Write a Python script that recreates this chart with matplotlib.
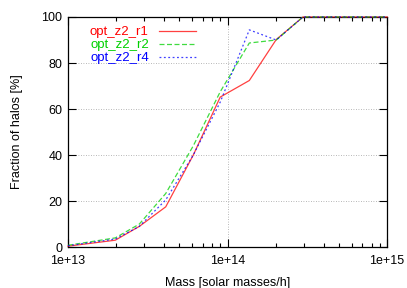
import matplotlib
matplotlib.use("Agg")
import matplotlib.pyplot as plt
from matplotlib.ticker import LogLocator, FixedLocator, NullFormatter

plt.rcParams['font.family'] = ['Liberation Sans', 'DejaVu Sans']

mass = [1.0e13, 1.98e13, 2.8e13, 4.1e13, 6.1e13, 9.0e13, 1.37e14, 2.02e14, 2.97e14, 4.4e14, 6.5e14, 1.0e15]
r1 = [0.4, 3.0, 9.0, 17.5, 40.0, 65.2, 72.4, 90.2, 100, 100, 100, 100]
r2 = [0.8, 4.0, 10.0, 23.3, 44.0, 67.5, 88.7, 90.0, 100, 100, 100, 100]
r4 = [0.6, 3.5, 9.0, 20.5, 40.0, 63.0, 94.4, 90.0, 100, 100, 100, 100]
labels = ['opt_z2_r1', 'opt_z2_r2', 'opt_z2_r4']
colors = ['#ff0000', '#00d000', '#0000ff']
styles = ['-', (0, (4, 2)), (0, (1.5, 2))]

fig = plt.figure(figsize=(4.07, 2.88), dpi=100)
ax = fig.add_axes([0.167, 0.142, 0.784, 0.799])

for y, lab, c, ls in zip([r1, r2, r4], labels, colors, styles):
    ax.plot(mass, y, color=c, linestyle=ls, linewidth=0.9, label=lab, alpha=0.75, clip_on=False, zorder=3)

ax.set_xscale('log')
ax.set_xlim(1e13, 1e15)
ax.set_ylim(0, 100)
ax.xaxis.set_major_locator(FixedLocator([1e13, 1e14, 1e15]))
ax.xaxis.set_minor_locator(LogLocator(base=10, subs=range(2, 10)))
ax.xaxis.set_minor_formatter(NullFormatter())
ax.set_xticklabels(['1e+13', '1e+14', '1e+15'])
ax.set_yticks([0, 20, 40, 60, 80, 100])

ax.tick_params(which='both', direction='in', top=True, right=True, labelsize=9)
ax.tick_params(axis='x', pad=6)
ax.tick_params(axis='y', pad=4)
ax.tick_params(which='major', length=6, width=0.8)
ax.tick_params(which='minor', length=3, width=0.8)
ax.grid(True, which='major', color='#a0a0a0', linestyle=(0, (1, 2)), linewidth=0.6)
for s in ax.spines.values():
    s.set_linewidth(0.9)

ax.set_xlabel('Mass [solar masses/h]', fontsize=9, labelpad=7)
ax.set_ylabel('Fraction of halos [%]', fontsize=9, labelpad=13)

leg = ax.legend(loc='upper left', bbox_to_anchor=(0.04, 1.0), frameon=False, markerfirst=False,
                fontsize=9.5, handlelength=2.8, labelspacing=0.05, handletextpad=0.8,
                labelcolor='linecolor', borderaxespad=0.3)

fig.savefig('out.png', dpi=100)
